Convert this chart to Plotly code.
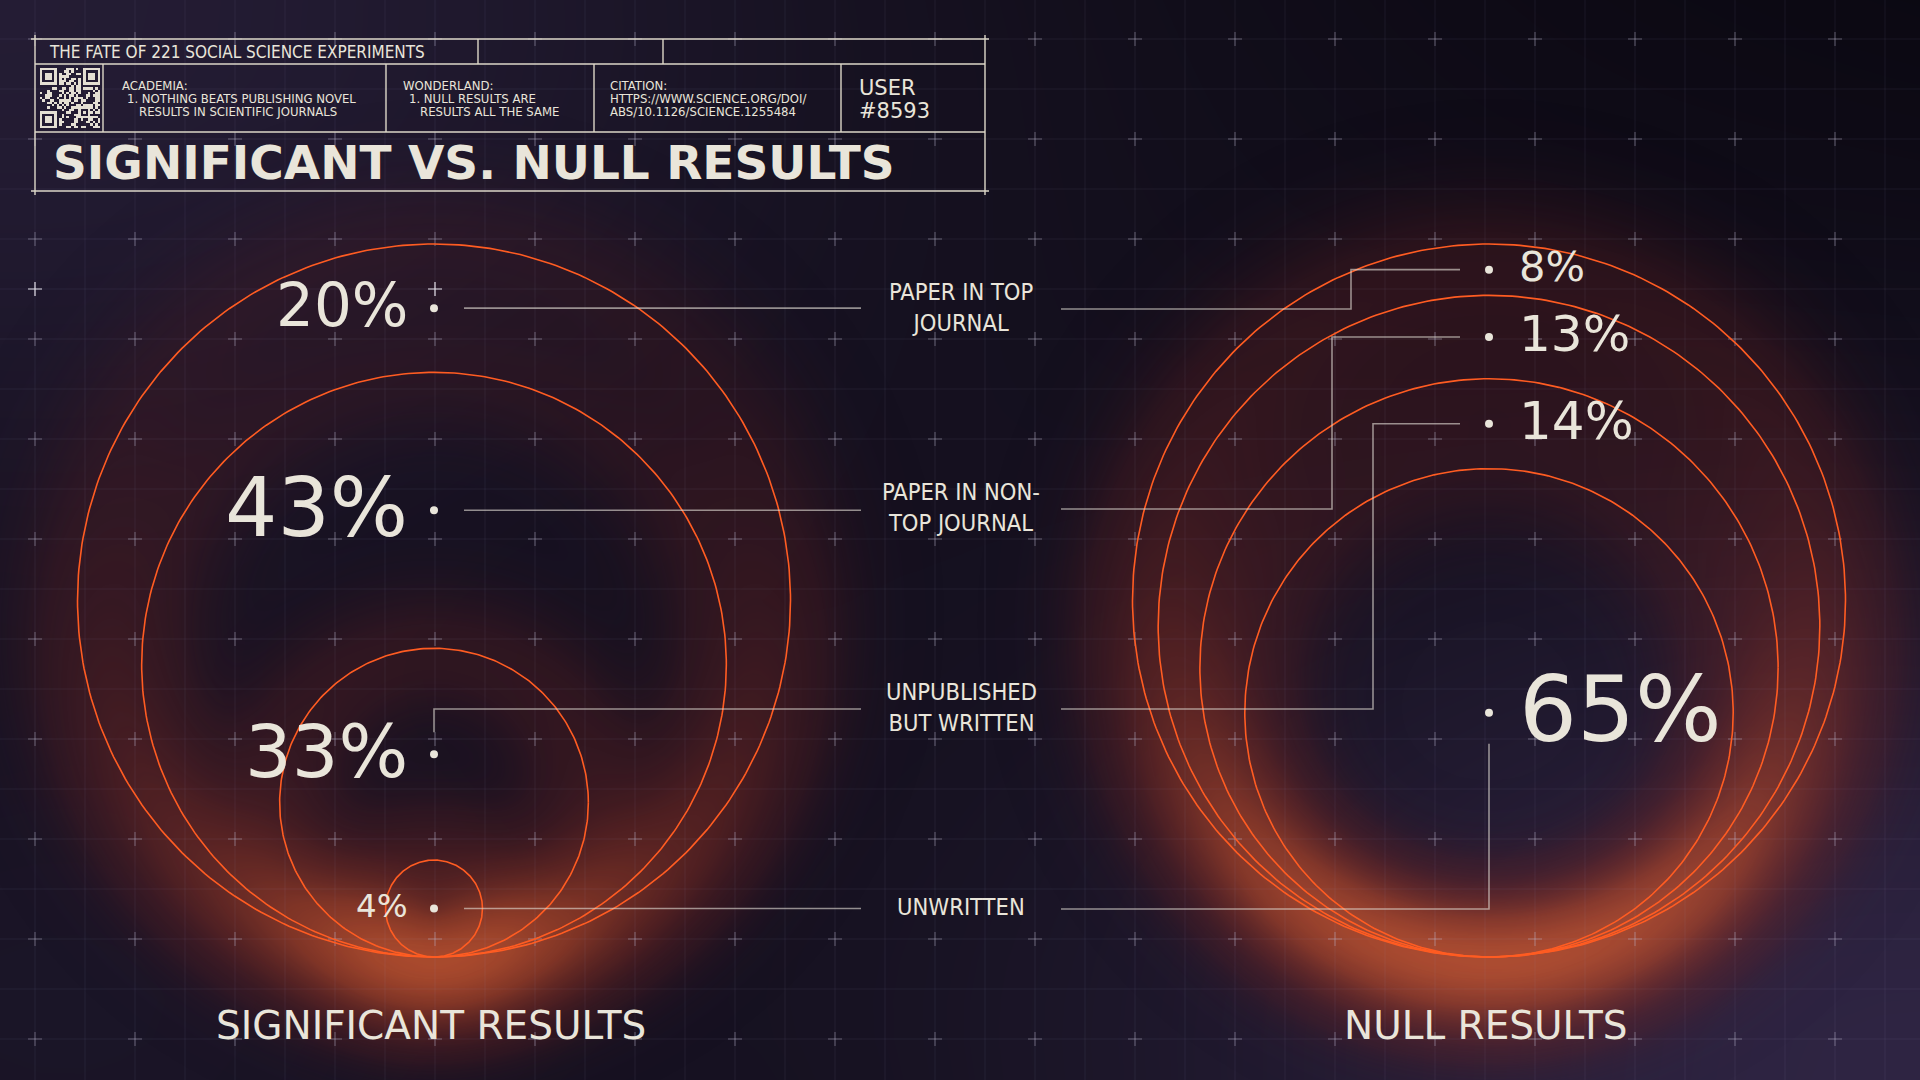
import numpy as np
import plotly.graph_objects as go

# ---------------- data ----------------
CATEGORY_LINES = [
    ["PAPER IN TOP", "JOURNAL"],
    ["PAPER IN NON-", "TOP JOURNAL"],
    ["UNPUBLISHED", "BUT WRITTEN"],
    ["UNWRITTEN"],
]
SIGNIFICANT_PCT = [20, 43, 33, 4]
NULL_PCT = [8, 13, 14, 65]
PANEL_TITLES = ["SIGNIFICANT RESULTS", "NULL RESULTS"]
SUPER_TITLE = "THE FATE OF 221 SOCIAL SCIENCE EXPERIMENTS"
MAIN_TITLE = "SIGNIFICANT VS. NULL RESULTS"
NOTE_HEADS = ["ACADEMIA:", "WONDERLAND:", "CITATION:"]
NOTE_LINES = [
    ["1. NOTHING BEATS PUBLISHING NOVEL", "RESULTS IN SCIENTIFIC JOURNALS"],
    ["1. NULL RESULTS ARE", "RESULTS ALL THE SAME"],
    ["HTTPS://WWW.SCIENCE.ORG/DOI/", "ABS/10.1126/SCIENCE.1255484"],
]
USER_LINES = ["USER", "#8593"]

# ---------------- layout / style constants ----------------
W, H = 1920, 1080
CREAM = "#e9e5da"
ORANGE = "#ff5c22"
LEADER = "rgba(225,220,212,0.62)"
WIDE = "DejaVu Sans, Verdana, sans-serif"
NARROW = "Liberation Sans Narrow, DejaVu Sans Condensed, Roboto Condensed, Liberation Sans, sans-serif"

PANEL_CX = [434, 1489]
PANEL_BOTTOM = 957
PANEL_R = 356.5
ROW_Y0, ROW_STEP = 309, 200
LABEL_CX, LABEL_HALF = 961, 100
RIGHT_ELBOW_DX = [-138, -157, -116, 0]


def ring_radius(share):
    return PANEL_R * (0.1 + 0.9 * share / 100.0)


def panel_geometry(values):
    cum = [sum(values[i:]) for i in range(len(values))]
    radii = [ring_radius(c) for c in cum]
    tops = [PANEL_BOTTOM - 2 * r for r in radii] + [PANEL_BOTTOM]
    dots = [(tops[i] + tops[i + 1]) / 2 for i in range(len(values))]
    return radii, dots


def pct_font(v):
    cap = min(60.0, 7 + 7.2 * np.sqrt(v))
    return cap * 1.52


rows = [ROW_Y0 + ROW_STEP * i for i in range(len(CATEGORY_LINES))]
fig = go.Figure()

# ---------- background ----------
bx = np.arange(0, W + 40, 40.0)
by = np.arange(0, H + 40, 40.0)
BX, BY = np.meshgrid(bx, by)
bg = (0.75 * np.exp(-((BX / 1100) ** 2 + (BY / 650) ** 2))
      + 1.0 * np.exp(-(((W - BX) / 1000) ** 2 + ((H - BY) / 650) ** 2))
      + 0.45 * np.exp(-((BX / 700) ** 2 + ((H - BY) / 450) ** 2)))
fig.add_trace(go.Heatmap(
    x=bx, y=by, z=bg, zmin=0, zmax=1.0, zsmooth="best", showscale=False,
    colorscale=[[0, "#08060e"], [0.45, "#171222"], [1, "#2e2442"]],
    hoverinfo="skip"))

# ---------- grid ----------
gxs, gys = [], []
for x in range(35, W, 50):
    gxs += [x, x, None]
    gys += [0, H, None]
for y in range(39, H, 50):
    gxs += [0, W, None]
    gys += [y, y, None]
fig.add_trace(go.Scatter(x=gxs, y=gys, mode="lines",
                         line=dict(color="rgba(160,150,195,0.09)", width=1),
                         hoverinfo="skip", showlegend=False))

# ---------- glow ----------
gx = np.arange(0, W + 8, 8.0)
gy = np.arange(0, H + 8, 8.0)
GX, GY = np.meshgrid(gx, gy)
glow = np.zeros_like(GX)
sigma = 48.0
for cx, values in zip(PANEL_CX, [SIGNIFICANT_PCT, NULL_PCT]):
    radii, _ = panel_geometry(values)
    top = PANEL_BOTTOM - 2 * PANEL_R
    pos = np.clip((GY - top) / (2 * PANEL_R), 0, 1.1)
    wgt = 0.3 + 0.7 * pos ** 2.2
    for r in radii:
        d = np.hypot(GX - cx, GY - (PANEL_BOTTOM - r))
        glow += wgt * np.exp(-0.5 * ((d - r) / sigma) ** 2)
fig.add_trace(go.Heatmap(
    x=gx, y=gy, z=glow, zmin=0, zmax=4.4, zsmooth="best", showscale=False,
    colorscale=[[0, "rgba(90,25,30,0)"], [0.1, "rgba(105,32,32,0.28)"],
                [0.3, "rgba(135,45,34,0.48)"], [0.6, "rgba(175,68,40,0.68)"],
                [1, "rgba(210,92,50,0.85)"]],
    hoverinfo="skip"))

# ---------- plus markers ----------
px, py = [], []
for x in range(35, W, 100):
    for y in range(39, H, 100):
        px.append(x)
        py.append(y)
fig.add_trace(go.Scatter(x=px, y=py, mode="markers",
                         marker=dict(symbol="cross-thin", size=10,
                                     line=dict(color="rgba(195,190,215,0.45)", width=1)),
                         hoverinfo="skip", showlegend=False))
fig.add_trace(go.Scatter(x=[35, 435], y=[289, 289], mode="markers",
                         marker=dict(symbol="cross-thin", size=10,
                                     line=dict(color="rgba(240,238,245,0.95)", width=1.2)),
                         hoverinfo="skip", showlegend=False))

# ---------- circles ----------
theta = np.linspace(0, 2 * np.pi, 361)
for cx, values in zip(PANEL_CX, [SIGNIFICANT_PCT, NULL_PCT]):
    radii, _ = panel_geometry(values)
    cxs, cys = [], []
    for r in radii:
        cxs += list(cx + r * np.cos(theta)) + [None]
        cys += list(PANEL_BOTTOM - r + r * np.sin(theta)) + [None]
    fig.add_trace(go.Scatter(x=cxs, y=cys, mode="lines",
                             line=dict(color=ORANGE, width=1.6),
                             hoverinfo="skip", showlegend=False))

# ---------- connectors, dots, percentage labels ----------
lx, ly = [], []
dotx, doty = [], []
annotations = []


def text(x, y, s, size, family, xanchor="left", yanchor="middle", color=CREAM,
         weight=None, align="left"):
    f = dict(family=family, size=size, color=color)
    if weight:
        f["weight"] = weight
    annotations.append(dict(x=x, y=y, xref="x", yref="y", text=s, showarrow=False,
                            xanchor=xanchor, yanchor=yanchor, font=f, borderpad=0,
                            align=align))


# left panel (significant)
cx = PANEL_CX[0]
_, dots = panel_geometry(SIGNIFICANT_PCT)
for v, dy, ry in zip(SIGNIFICANT_PCT, dots, rows):
    dotx.append(cx)
    doty.append(dy)
    if abs(dy - ry) < 12:
        lx += [cx + 30, LABEL_CX - LABEL_HALF, None]
        ly += [dy, dy, None]
    else:
        lx += [LABEL_CX - LABEL_HALF, cx, cx, None]
        ly += [ry, ry, dy - 22, None]
    text(cx - 25, dy - 3, f"{v}%", pct_font(v), WIDE, xanchor="right")

# right panel (null)
cx = PANEL_CX[1]
_, dots = panel_geometry(NULL_PCT)
for v, dy, ry, ex in zip(NULL_PCT, dots, rows, RIGHT_ELBOW_DX):
    dotx.append(cx)
    doty.append(dy)
    if ex != 0:
        lx += [LABEL_CX + LABEL_HALF, cx + ex, cx + ex, cx - 29, None]
        ly += [ry, ry, dy, dy, None]
    else:
        lx += [LABEL_CX + LABEL_HALF, cx, cx, None]
        ly += [ry, ry, dy + 31, None]
    text(cx + 29, dy - 3, f"{v}%", pct_font(v), WIDE, xanchor="left")

fig.add_trace(go.Scatter(x=lx, y=ly, mode="lines", line=dict(color=LEADER, width=1.6),
                         hoverinfo="skip", showlegend=False))
fig.add_trace(go.Scatter(x=dotx, y=doty, mode="markers",
                         marker=dict(size=8, color=CREAM, line=dict(width=0)),
                         hoverinfo="skip", showlegend=False))

# category labels (one text block per category)
for lines, ry in zip(CATEGORY_LINES, rows):
    text(LABEL_CX, ry - 2, "<br>".join(lines), 23.5, NARROW, xanchor="center", align="center")

# panel titles
for cx, t in zip(PANEL_CX, PANEL_TITLES):
    text(cx - 3, 1025, t, 39, WIDE, xanchor="center")

# ---------- header box ----------
hx, hy = [], []


def seg(x0, y0, x1, y1):
    hx.extend([x0, x1, None])
    hy.extend([y0, y1, None])


seg(31, 39, 989, 39)
seg(35, 64, 985, 64)
seg(35, 132, 985, 132)
seg(31, 191, 989, 191)
seg(35, 35, 35, 195)
seg(985, 35, 985, 195)
for x in (478, 663):
    seg(x, 39, x, 64)
for x in (103, 386, 594, 841):
    seg(x, 64, x, 132)
fig.add_trace(go.Scatter(x=hx, y=hy, mode="lines", line=dict(color="#ddd7c8", width=1.4),
                         hoverinfo="skip", showlegend=False))

# QR-like pattern derived from the citation text
n = 25
raw = np.frombuffer(("".join(NOTE_LINES[2]) * 4).encode(), dtype=np.uint8)
bits = np.unpackbits(raw)[: n * n].reshape(n, n)
ii, jj = np.indices((n, n))
M = np.logical_xor(bits, (ii + jj) % 3 == 0).astype(float)


def finder(r0, c0):
    M[max(r0 - 1, 0):r0 + 8, max(c0 - 1, 0):c0 + 8] = 0
    M[r0:r0 + 7, c0:c0 + 7] = 1
    M[r0 + 1:r0 + 6, c0 + 1:c0 + 6] = 0
    M[r0 + 2:r0 + 5, c0 + 2:c0 + 5] = 1


finder(0, 0)
finder(0, n - 7)
finder(n - 7, 0)
M[n - 9:n - 4, n - 9:n - 4] = 1
M[n - 8:n - 5, n - 8:n - 5] = 0
M[n - 7, n - 7] = 1
mod = 2.4
fig.add_trace(go.Heatmap(
    x=40 + mod * (np.arange(n) + 0.5), y=68 + mod * (np.arange(n) + 0.5), z=M,
    zmin=0, zmax=1, showscale=False, zsmooth=False,
    colorscale=[[0, "rgba(0,0,0,0)"], [0.5, "rgba(0,0,0,0)"], [0.5, "#e4dfd3"], [1, "#e4dfd3"]],
    hoverinfo="skip"))

# header texts
text(48, 52, SUPER_TITLE, 17, NARROW)
note_x = [121, 402, 609]
note_indent = [(5, 17), (6, 17), (0, 0)]
for x0, head, lines, ind in zip(note_x, NOTE_HEADS, NOTE_LINES, note_indent):
    text(x0, 85, head, 13, NARROW)
    text(x0 + ind[0], 98.5, lines[0], 13, NARROW)
    text(x0 + ind[1], 111.5, lines[1], 13, NARROW)
text(858, 88, USER_LINES[0], 21, WIDE)
text(858, 111, USER_LINES[1], 21, WIDE)
text(52, 162, MAIN_TITLE, 47, WIDE, weight="bold")

fig.update_layout(
    width=W, height=H, margin=dict(l=0, r=0, t=0, b=0),
    paper_bgcolor="#0b0912", plot_bgcolor="#0b0912",
    xaxis=dict(range=[0, W], visible=False, fixedrange=True),
    yaxis=dict(range=[H, 0], visible=False, fixedrange=True),
    showlegend=False, hovermode=False, annotations=annotations,
)

fig.write_html("out.html", config={"displayModeBar": False},
               post_script="document.body.style.margin='0';document.body.style.overflow='hidden';")
